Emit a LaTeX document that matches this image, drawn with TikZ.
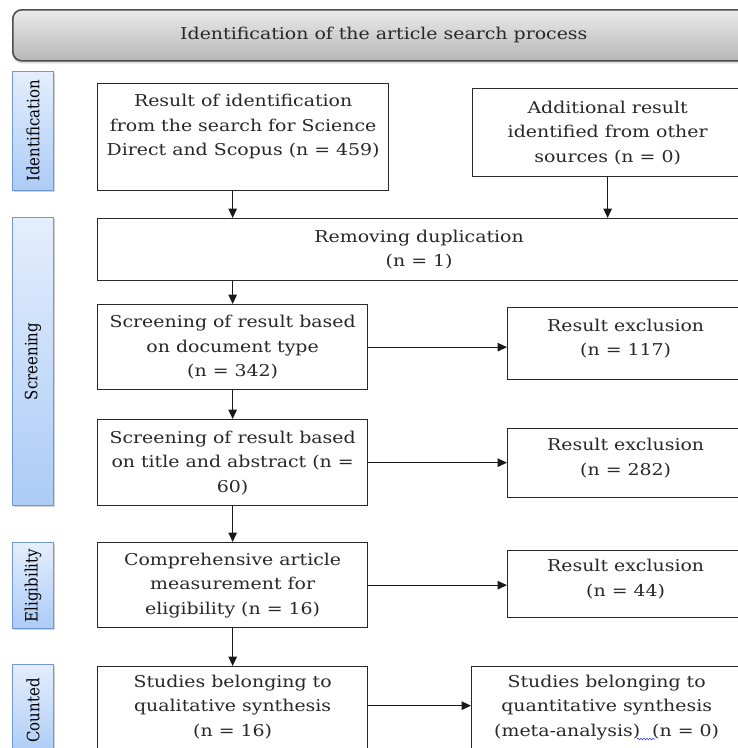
\documentclass[tikz,border=0pt]{standalone}
\usepackage{fontspec}
\setmainfont[FakeStretch=1.16]{DejaVu Serif}
\newfontfamily\stagefont[FakeStretch=0.88]{DejaVu Serif}
\usepackage[usenames]{xcolor}
\usepackage{tikz}
\usetikzlibrary{arrows.meta,shadows,decorations.pathmorphing}

\definecolor{inkgray}{RGB}{40,40,40}
\definecolor{stagetop}{RGB}{228,238,253}
\definecolor{stagebot}{RGB}{172,203,246}
\definecolor{stageedge}{RGB}{112,152,214}

\tikzset{
  flowbox/.style={draw=inkgray,line width=1.3pt,fill=white,align=center,
    anchor=north west,inner sep=2pt,text=inkgray},
  stagebox/.style={draw=stageedge,line width=0.9pt,top color=stagetop,
    bottom color=stagebot,anchor=north west,inner sep=0pt,
    minimum width=41pt,text=black,font=\stagefont\fontsize{17}{19}\selectfont,
    drop shadow={shadow xshift=1.2pt,shadow yshift=-1.5pt,opacity=0.35}},
  headbox/.style={draw=black!70,line width=1.6pt,rounded corners=9pt,
    top color=black!8,bottom color=black!28,anchor=north west,text=inkgray,
    drop shadow={shadow xshift=0pt,shadow yshift=-2.5pt,opacity=0.3}}
}

\begin{document}
\begin{tikzpicture}[x=1pt,y=-1pt,font=\fontsize{16.3}{24.5}\selectfont]
\useasboundingbox (0,0) rectangle (738,748);
\clip (0,0) rectangle (738,748);
\fill[white] (0,0) rectangle (738,748);

% title bar
\node[headbox,minimum width=742pt,minimum height=51pt] (title) at (12,9)
  {Identification of the article search process};

% stages on the left
\node[stagebox,minimum height=119pt] (sIdent)  at (12,71)  {\rotatebox{90}{Identification}};
\node[stagebox,minimum height=288pt] (sScreen) at (12,217) {\rotatebox{90}{Screening}};
\node[stagebox,minimum height=86pt]  (sElig)   at (12,542) {\rotatebox{90}{Eligibility}};
\node[stagebox,minimum height=92pt]  (sCount)  at (12,664) {\rotatebox{90}{Counted}};

% identification
\node[flowbox,minimum width=291pt,minimum height=107pt] (ident) at (97,83)
  {Result of identification\\from the search for Science\\Direct and Scopus (n = 459)\\[0pt]\mbox{}};
\node[flowbox,minimum width=270pt,minimum height=88pt] (other) at (472,88)
  {Additional result\\identified from other\\sources (n = 0)};
\node[flowbox,minimum width=643pt,minimum height=62pt] (remove) at (97,218)
  {Removing duplication\\(n = 1)};

% screening
\node[flowbox,minimum width=270pt,minimum height=85pt] (scrA) at (97,304)
  {Screening of result based\\on document type\\(n = 342)};
\node[flowbox,minimum width=236pt,minimum height=72pt] (exclA) at (507,307)
  {Result exclusion\\(n = 117)\\[-12pt]\mbox{}};
\node[flowbox,minimum width=270pt,minimum height=86pt] (scrB) at (97,419)
  {Screening of result based\\on title and abstract (n =\\60)};
\node[flowbox,minimum width=236pt,minimum height=69pt] (exclB) at (507,428)
  {Result exclusion\\(n = 282)\\[-12pt]\mbox{}};

% eligibility
\node[flowbox,minimum width=270pt,minimum height=85pt] (elig) at (97,542)
  {Comprehensive article\\measurement for\\eligibility (n = 16)};
\node[flowbox,minimum width=236pt,minimum height=67pt] (exclC) at (507,550)
  {Result exclusion\\(n = 44)\\[-12pt]\mbox{}};

% counted
\node[flowbox,minimum width=270pt,minimum height=90pt] (qual) at (97,666)
  {Studies belonging to\\qualitative synthesis\\(n = 16)\\[-12.5pt]\mbox{}};
\node[flowbox,minimum width=270pt,minimum height=90pt] (quant) at (471,666)
  {Studies belonging to\\quantitative synthesis\\(meta-analysis)\ \ (n = 0)\\[-12.5pt]\mbox{}};
\draw[blue!75,line width=0.6pt,decorate,
  decoration={snake,amplitude=0.8pt,segment length=3pt}] (637,739) -- (655,739);

\begin{scope}[>={Triangle[length=9.5pt,width=8.5pt]},line width=1.3pt,draw=black!90]
    \draw[->] (scrA.north |- ident.south) -- (scrA.north |- remove.north);
    \draw[->] (other.south) -- (other.south |- remove.north);
    \draw[->] (scrA.north |- remove.south) -- (scrA.north);
    \draw[->] (scrA.south) -- (scrB.north);
    \draw[->] (scrB.south) -- (elig.north);
    \draw[->] (elig.south) -- (qual.north);

    \draw[->] (scrA.east) -- (scrA.east -| exclA.west);
    \draw[->] (scrB.east) -- (scrB.east -| exclB.west);
    \draw[->] (elig.east) -- (elig.east -| exclC.west);
    \draw[->] ([yshift=6pt]qual.east) -- ([yshift=6pt]qual.east -| quant.west);
\end{scope}
\end{tikzpicture}
\end{document}
